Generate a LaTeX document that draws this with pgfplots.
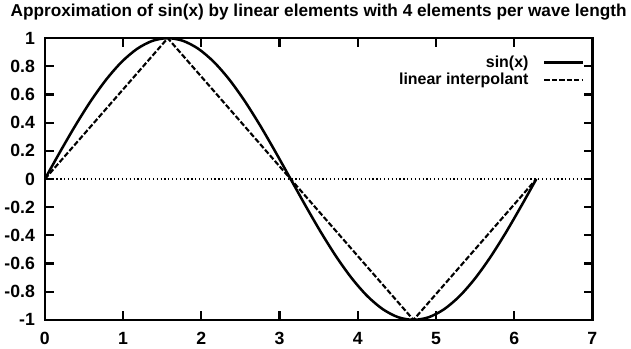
\documentclass[border=0pt]{standalone}
\usepackage{fontspec}
\setmainfont{Liberation Sans}
\usepackage{pgfplots}
\pgfplotsset{compat=1.18}
\begin{document}
\begin{tikzpicture}
\begin{axis}[
  scale only axis,
  width=412pt, height=212pt,
  xmin=0, xmax=7, ymin=-1, ymax=1,
  xtick={0,1,...,7},
  ytick={-1,-0.8,...,1},
  yticklabels={-1,-0.8,-0.6,-0.4,-0.2,0,0.2,0.4,0.6,0.8,1},
  tick align=inside,
  major tick length=6.5pt,
  axis line style={line width=2pt},
  every tick/.style={line width=1.6pt,black},
  /pgf/number format/assume math mode=true,
  ticklabel style={font=\bfseries\fontsize{13.3}{14}\selectfont},
  xticklabel style={yshift=-5.5pt},
  yticklabel style={xshift=-4pt},
  title={Approximation of sin(x) by linear elements with 4 elements per wave length},
  title style={font=\bfseries\fontsize{12.95}{14}\selectfont, at={(0.5,1)}, anchor=base, yshift=10pt},
  legend style={draw=none, fill=none, at={(1,1)}, anchor=north east, xshift=-3pt, yshift=-9pt,
    font=\bfseries\fontsize{12}{12}\selectfont, row sep=-1pt},
  legend cell align=right,
  legend plot pos=right,
  legend image post style={xscale=1.7},
]
\addplot[black, line width=1.9pt, smooth] coordinates {
(0,0)(0.1963,0.1951)(0.3927,0.3827)(0.5890,0.5556)(0.7854,0.7071)(0.9817,0.8315)(1.1781,0.9239)(1.3744,0.9808)(1.5708,1)
(1.7671,0.9808)(1.9635,0.9239)(2.1598,0.8315)(2.3562,0.7071)(2.5525,0.5556)(2.7489,0.3827)(2.9452,0.1951)(3.1416,0)
(3.3379,-0.1951)(3.5343,-0.3827)(3.7306,-0.5556)(3.9270,-0.7071)(4.1233,-0.8315)(4.3197,-0.9239)(4.5160,-0.9808)(4.7124,-1)
(4.9087,-0.9808)(5.1051,-0.9239)(5.3014,-0.8315)(5.4978,-0.7071)(5.6941,-0.5556)(5.8905,-0.3827)(6.0868,-0.1951)(6.2832,0)
};
\addlegendentry{sin(x)\rule{9pt}{0pt}}
\addplot[black, line width=1.6pt, dash pattern=on 4pt off 1.6pt] coordinates {
(0,0)(1.5708,1)(3.1416,0)(4.7124,-1)(6.2832,0)
};
\addlegendentry{linear interpolant\rule{9pt}{0pt}}
\addplot[black, line width=0.9pt, dotted, forget plot] coordinates {(0,0)(7,0)};
\end{axis}
\end{tikzpicture}
\end{document}
